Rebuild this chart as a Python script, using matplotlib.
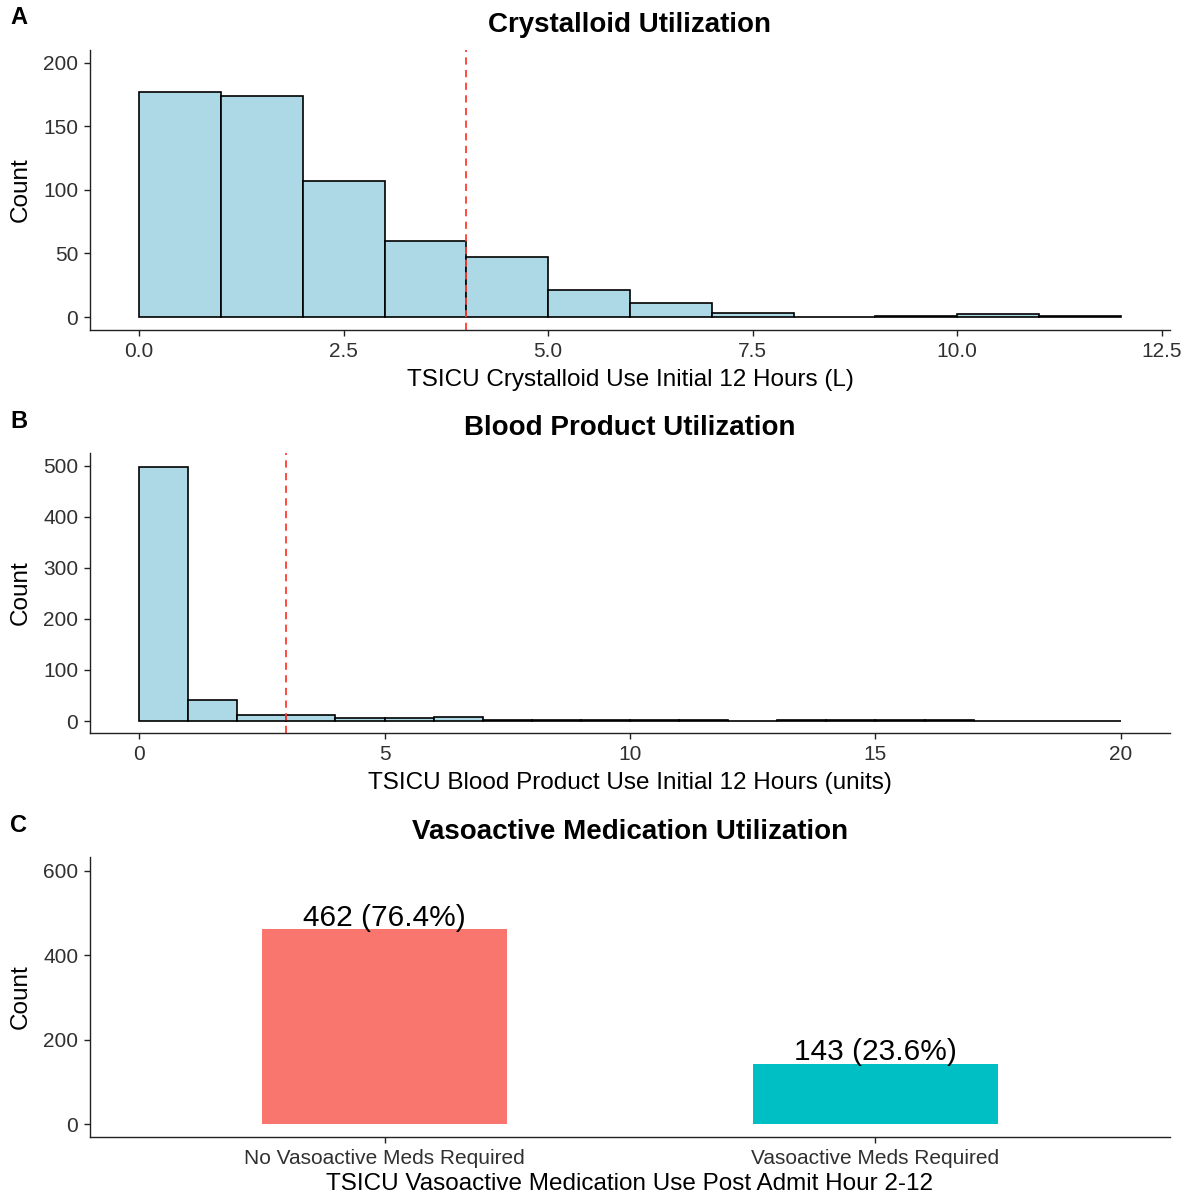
import numpy as np
import matplotlib
matplotlib.use("Agg")
import matplotlib.pyplot as plt

plt.rcParams['font.family'] = ['Liberation Sans', 'DejaVu Sans']

# panel A: crystalloid histogram (1 L bins)
cryst_edges = np.arange(0, 13, 1)
cryst_counts = [177, 174, 107, 60, 47, 21, 11, 3, 0, 1, 2, 1]
cryst_cut = 4

# panel B: blood product histogram (1 unit bins)
blood_edges = np.arange(0, 21, 1)
blood_counts = [498, 41, 12, 12, 6, 6, 7, 2, 2, 1, 1, 1, 0, 1, 1, 1, 1, 0, 0, 0]
blood_cut = 3

# panel C: vasoactive bars
vaso_cats = ["No Vasoactive Meds Required", "Vasoactive Meds Required"]
vaso_counts = [462, 143]
vaso_labels = ["462 (76.4%)", "143 (23.6%)"]
vaso_colors = ["#F8766D", "#00BFC4"]

W, H = 1189, 1199
fig = plt.figure(figsize=(W / 100, H / 100), dpi=100)

TICK = 15
LAB = 17.5
TTL = 20


def box(l, t, r, b):
    return [l / W, 1 - b / H, (r - l) / W, (b - t) / H]


def classic(ax):
    for s in ['top', 'right']:
        ax.spines[s].set_visible(False)
    for s in ['left', 'bottom']:
        ax.spines[s].set_linewidth(1.0)
        ax.spines[s].set_color('#222222')
    ax.tick_params(labelsize=TICK, colors='#222222', labelcolor='#303030',
                   length=4, width=1.0, pad=4.5)


def hist_panel(ax, edges, counts, cut, title, xlabel, xlim, ylim, xticks, yticks, xfmt):
    ax.bar(edges[:-1], counts, width=1, align='edge', color='#ADD8E6',
           edgecolor='black', linewidth=1.2)
    ax.axvline(cut, color='#FF3B30', linestyle=(0, (4, 3)), linewidth=1.3)
    ax.set_xlim(*xlim)
    ax.set_ylim(*ylim)
    ax.set_xticks(xticks)
    ax.set_xticklabels([xfmt.format(v) for v in xticks])
    ax.set_yticks(yticks)
    ax.set_title(title, fontsize=TTL, fontweight='bold', pad=13)
    ax.set_xlabel(xlabel, fontsize=LAB, labelpad=6)
    ax.set_ylabel("Count", fontsize=LAB, labelpad=8)
    classic(ax)


axA = fig.add_axes(box(90, 50, 1170, 330))
hist_panel(axA, cryst_edges, cryst_counts, cryst_cut, "Crystalloid Utilization",
           "TSICU Crystalloid Use Initial 12 Hours (L)", (-0.6, 12.6), (-10.2, 210),
           [0, 2.5, 5, 7.5, 10, 12.5], [0, 50, 100, 150, 200], "{:.1f}")

axB = fig.add_axes(box(90, 453, 1170, 733))
hist_panel(axB, blood_edges, blood_counts, blood_cut, "Blood Product Utilization",
           "TSICU Blood Product Use Initial 12 Hours (units)", (-1.0, 21.0), (-23.5, 525),
           [0, 5, 10, 15, 20], [0, 100, 200, 300, 400, 500], "{:g}")

axC = fig.add_axes(box(90, 857, 1170, 1137))
xpos = np.arange(1, len(vaso_cats) + 1)
axC.bar(xpos, vaso_counts, width=0.5, color=vaso_colors)
for x, v, t in zip(xpos, vaso_counts, vaso_labels):
    axC.text(x, v - 6, t, ha='center', va='bottom', fontsize=21.5, color='black')
axC.set_xlim(0.4, 2.6)
axC.set_ylim(-30, 633)
axC.set_xticks(xpos)
axC.set_xticklabels(vaso_cats)
axC.set_yticks([0, 200, 400, 600])
axC.set_title("Vasoactive Medication Utilization", fontsize=TTL, fontweight='bold', pad=13)
axC.set_xlabel("TSICU Vasoactive Medication Use Post Admit Hour 2-12", fontsize=LAB, labelpad=4)
axC.set_ylabel("Count", fontsize=LAB, labelpad=8)
classic(axC)

for letter, y in zip("ABC", [18, 422, 826]):
    fig.text(10 / W, 1 - y / H, letter, fontsize=17, fontweight='bold', va='center', ha='left')

fig.savefig("out.png", dpi=100)
